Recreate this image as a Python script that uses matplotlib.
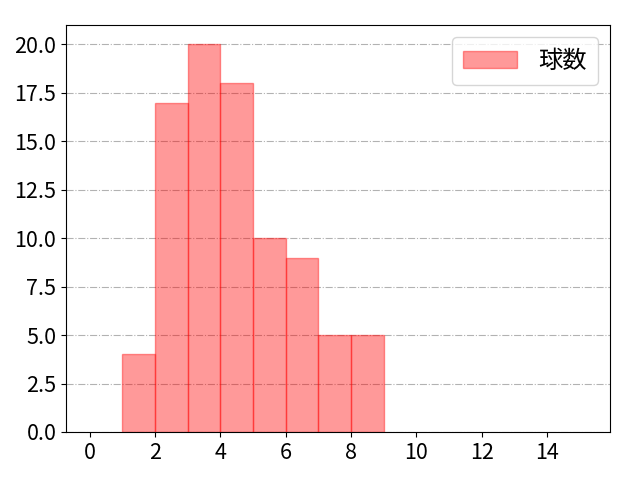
import matplotlib
matplotlib.use("Agg")
import matplotlib.pyplot as plt

plt.rcParams['font.family'] = ['Noto Sans CJK JP', 'DejaVu Sans']

# histogram data: bin edges and counts
bin_edges = [1, 2, 3, 4, 5, 6, 7, 8, 9]
counts = [4, 17, 20, 18, 10, 9, 5, 5]
label = '球数'

fig, ax = plt.subplots(figsize=(6.4, 4.8), dpi=100)
fig.subplots_adjust(left=66/640, right=610/640, top=1-25/480, bottom=1-432/480)

ax.hist(bin_edges[:-1], bins=bin_edges, weights=counts,
        color='red', edgecolor='red', alpha=0.4, label=label)

ax.set_xlim(-0.73, 15.93)
ax.set_ylim(0, 21)
ax.set_xticks([0, 2, 4, 6, 8, 10, 12, 14])
ax.tick_params(labelsize=15.5)
ax.grid(axis='y', linestyle='-.', color='gray', alpha=0.6)
ax.set_axisbelow(True)
ax.legend(fontsize=17.5, handlelength=2.2, handletextpad=0.9,
          borderpad=0.45, loc='upper right')

plt.savefig('out.png')
